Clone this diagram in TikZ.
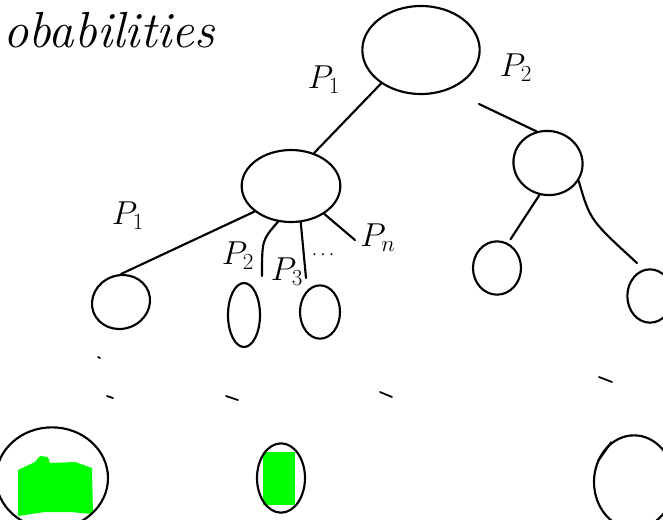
\documentclass[tikz,border=0pt]{standalone}
\usetikzlibrary{shapes.geometric}
\begin{document}
\begin{tikzpicture}[x=0.75pt,y=-0.75pt,
  ink/.style={line width=1.6pt,line cap=round,line join=round},
  blob/.style={ellipse,draw,line width=1.6pt,inner sep=0pt},
  lbl/.style={font=\fontsize{26}{28}\selectfont},
  dot/.style={line width=1.3pt,line cap=round}]
\useasboundingbox (0,0) rectangle (663,519);
% title
\node[anchor=west,font=\fontsize{38}{40}\selectfont\itshape,inner sep=0pt] (title) at (3,30) {obabilities};
% nodes
\node[blob,minimum width=88,minimum height=66] (root) at (421,50) {};
\node[blob,minimum width=74,minimum height=54] (c1) at (291,186) {};
\node[blob,minimum width=52,minimum height=48,rotate=-10] (c2) at (548,163) {};
\node[blob,minimum width=44,minimum height=40,rotate=20] (g1) at (121,302) {};
\node[blob,minimum width=24,minimum height=48] (g2) at (244,315) {};
\node[blob,minimum width=30,minimum height=40] (g3) at (320,312) {};
\node[blob,minimum width=36,minimum height=40] (g4) at (497,268) {};
\node[blob,minimum width=34,minimum height=40] (g5) at (650,296) {};
% free ends
\coordinate (e2) at (262,276);
\coordinate (e3) at (306,278);
\coordinate (e4) at (355,240);
\coordinate (e5) at (637,263);
% connectors
\draw[ink] (root.220) -- (c1.55);
\draw[ink] (root.-45) ++(22,18) coordinate (r2a) -- (c2.120);
\draw[ink] (c1.215) -- (g1.70);
\draw[ink] (c1.250) .. controls (262,240) .. (e2);
\draw[ink] (c1.285) -- (e3);
\draw[ink] (c1.-40) -- (e4);
\draw[ink] (c2.-95) -- ([yshift=4]g4.60);
\draw[ink] (c2.-20) .. controls (590,220) .. (e5);
% labels
\node[lbl] (p1) at (324,80) {$P_1$};
\node[lbl] (p2) at (516,68) {$P_2$};
\node[lbl] (q1) at (128,216) {$P_1$};
\node[lbl] (q2) at (238,256) {$P_2$};
\node[lbl] (q3) at (287,272) {$P_3$};
\node[lbl] (qd) at (323,255) {\fontsize{14}{14}\selectfont$\cdots$};
\node[lbl] (qn) at (378,238) {$P_n$};
% dashes
\coordinate (d1) at (98,357);
\draw[dot] (d1) -- ++(2,1);
\coordinate (d2) at (107,396);
\draw[dot] (d2) -- ++(6,2);
\coordinate (d3) at (226,396);
\draw[dot] (d3) -- ++(12,4);
\coordinate (d4) at (380,392);
\draw[dot] (d4) -- ++(12,5);
\coordinate (d5) at (599,377);
\draw[dot] (d5) -- ++(13,5);
% bottom
\fill[green] (18,470) -- (35,462) -- (40,456) -- (48,457) -- (50,463) -- (75,462) -- (92,468) -- (93,514) -- (70,512) -- (45,512) -- (18,516) -- cycle;
\node[blob,minimum width=84,minimum height=76] (b1) at (52,478) {};
\fill[green] (263,452) rectangle (295,505);
\node[blob,minimum width=36,minimum height=52] (b2) at (281,478) {};
\node[blob,minimum width=60,minimum height=70] (b3) at (634,482) {};
\coordinate (b3a) at (598,461);
\draw[ink] (b3a) -- (b3.120);
\end{tikzpicture}
\end{document}
